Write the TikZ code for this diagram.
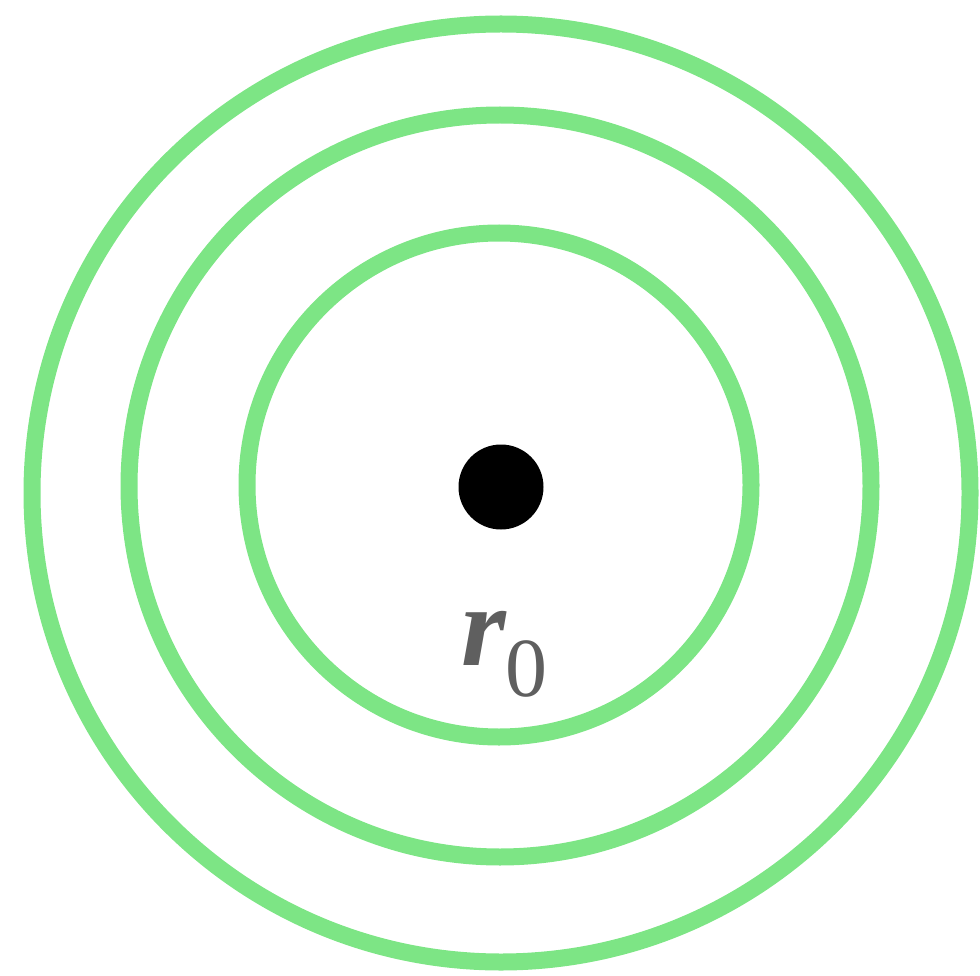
\documentclass[tikz,border=0pt]{standalone}
\usepackage{fontspec}
\newfontfamily\lserif{Liberation Serif}
\definecolor{ringgreen}{HTML}{7DE585}
\definecolor{labelgray}{HTML}{5F5F5F}
\tikzset{ring/.style={draw=ringgreen,line width=17pt},
  lbltext/.style={text=labelgray,anchor=base,inner sep=0pt}}
\begin{document}
\begin{tikzpicture}[x=1pt,y=-1pt]
\useasboundingbox (0,0) rectangle (980,976);
\draw[ring] (501,493) circle[radius=469];
\draw[ring] (500,486) circle[radius=371];
\draw[ring] (499,485) circle[radius=252];
\fill[black] (501,487) circle[radius=42.5];
\node[lbltext,font=\lserif\bfseries\itshape\fontsize{115}{120}\selectfont] (lblr) at (484,665) {r};
\node[lbltext,font=\lserif\fontsize{84}{90}\selectfont] (lbl0) at (526,696) {0};
\end{tikzpicture}
\end{document}
